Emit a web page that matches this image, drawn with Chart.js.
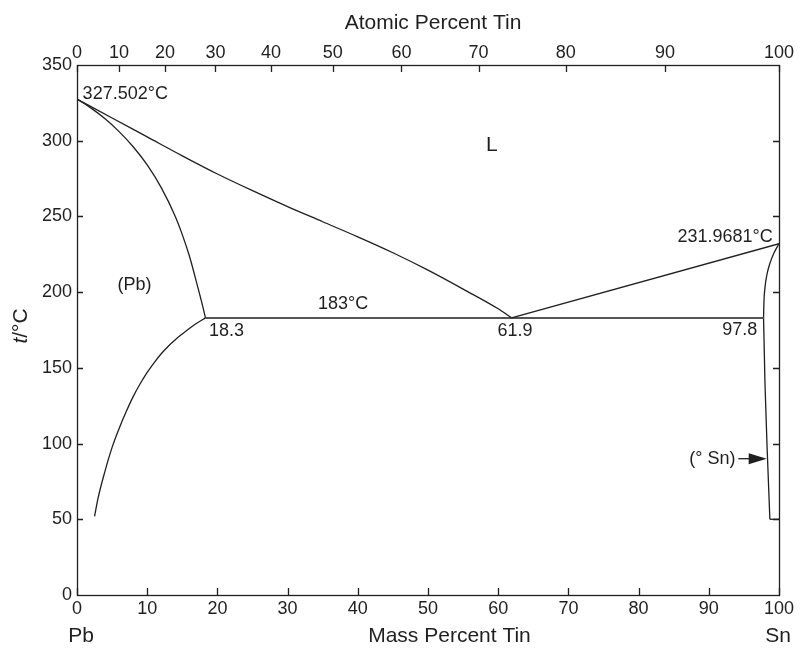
<!DOCTYPE html>
<html><head><meta charset="utf-8">
<script src="https://cdn.jsdelivr.net/npm/chart.js@4/dist/chart.umd.min.js"></script>
<style>html,body{margin:0;padding:0;background:#fff}</style>
</head><body>
<canvas id="c" width="801" height="648"></canvas>
<script>
// ---- data (mass percent Sn, temperature °C) ----
const massTicks = [0,10,20,30,40,50,60,70,80,90,100];
const atomicTicks = [0,10,20,30,40,50,60,70,80,90,100];
const tempTicks = [0,50,100,150,200,250,300,350];
const innerTempTicks = [50,100,150,200,250,300];
const SN_ATOMIC_MASS = 118.71, PB_ATOMIC_MASS = 207.2;

const liquidusPbX = [0, 5, 10, 15, 20, 25, 30, 35, 40, 45, 50, 55, 60, 61.9];
const liquidusPbT = [327.502, 315, 302.5, 290, 278, 267, 256.5, 246.5, 236.5, 226, 214.5, 202, 189, 183];
const liquidusSnX = [61.9, 100];
const liquidusSnT = [183, 231.9681];
const solidusPbX = [0, 2, 4, 6, 8, 10, 12, 14, 15, 16, 17, 18, 18.3];
const solidusPbT = [327.502, 321.5, 314.5, 306, 296, 284, 269, 250, 238, 224, 207, 189, 183];
const solvusPbX = [2.5, 3, 4, 5, 6, 7, 8, 9, 10, 11, 12, 13, 14, 15, 16, 17, 18.3];
const solvusPbT = [52, 64, 82, 97.5, 110, 121, 131, 139.5, 147, 153.5, 159.3, 164.3, 168.6, 172.4, 176, 179.3, 183];
const eutecticX = [18.3, 61.9, 97.8];
const eutecticT = [183, 183, 183];
const snSolidusX = [97.8, 97.85, 98.0, 98.3, 98.7, 99.3, 100];
const snSolidusT = [183, 193, 203, 212, 219, 226, 231.9681];
const snSolvusX = [97.8, 98.0, 98.3, 98.7];
const snSolvusT = [183, 140, 98, 50];
const snBottomX = [98.7, 100];
const snBottomT = [50, 50];

function massFromAtomic(a){
  const sn = a*SN_ATOMIC_MASS, pb = (100-a)*PB_ATOMIC_MASS;
  return sn/(sn+pb)*100;
}
function pts(xs, ts){ return xs.map((x,i)=>({x:x, y:ts[i]})); }

const FONT = "'Liberation Sans', Arial, Helvetica, sans-serif";
const INK = '#1f1f1f';

function ds(xs, ts, opt){
  return Object.assign({data: pts(xs,ts), showLine:true, pointRadius:0, borderColor:INK,
    borderWidth:1.3, tension:0, fill:false}, opt||{});
}
const smooth = {cubicInterpolationMode:'monotone'};

const labelsPlugin = {
  id:'labels',
  afterDraw(chart){
    const ctx = chart.ctx, xs = chart.scales.x, ys = chart.scales.y, a = chart.chartArea;
    ctx.save();
    ctx.strokeStyle = INK; ctx.lineWidth = 1.3;
    // frame
    ctx.strokeRect(Math.round(a.left)+0.5, Math.round(a.top)+0.5, Math.round(a.right-a.left), Math.round(a.bottom-a.top));
    // inward ticks
    ctx.beginPath();
    massTicks.forEach(v=>{ const px = Math.round(xs.getPixelForValue(v))+0.5; ctx.moveTo(px,a.bottom); ctx.lineTo(px,a.bottom-7); });
    atomicTicks.forEach(v=>{ const px = Math.round(xs.getPixelForValue(massFromAtomic(v)))+0.5; ctx.moveTo(px,a.top); ctx.lineTo(px,a.top+7); });
    innerTempTicks.forEach(v=>{ const py = Math.round(ys.getPixelForValue(v))+0.5;
      ctx.moveTo(a.right,py); ctx.lineTo(a.right-6,py);
      ctx.moveTo(a.left,py); ctx.lineTo(a.left+6,py); });
    ctx.stroke();

    ctx.fillStyle = INK;
    ctx.textBaseline = 'middle';
    function txt(s, mx, t, align, size){
      ctx.font = (size||18)+'px '+FONT;
      ctx.textAlign = align||'center';
      ctx.fillText(s, xs.getPixelForValue(mx), ys.getPixelForValue(t));
    }
    txt('327.502°C', 0.8, 331, 'left');
    txt('L', 59.1, 297, 'center', 21);
    txt('(Pb)', 8.2, 204.5, 'center');
    txt('183°C', 37.9, 192, 'center');
    txt('18.3', 21.3, 174.5, 'center');
    txt('61.9', 62.4, 174.5, 'center');
    txt('97.8', 94.4, 175, 'center');
    txt('231.9681°C', 99.1, 236.5, 'right');
    txt('(° Sn)', 90.5, 90, 'center');

    // arrow
    const ay = ys.getPixelForValue(90);
    const ax0 = xs.getPixelForValue(94.2), ax1 = xs.getPixelForValue(98.25);
    ctx.beginPath(); ctx.moveTo(ax0, ay); ctx.lineTo(ax1-14, ay); ctx.stroke();
    ctx.beginPath(); ctx.moveTo(ax1, ay); ctx.lineTo(ax1-18, ay-5.5); ctx.lineTo(ax1-18, ay+5.5); ctx.closePath(); ctx.fill();

    // axis titles
    ctx.font = '21px '+FONT; ctx.textAlign = 'center';
    ctx.fillText('Atomic Percent Tin', 433, 23);
    ctx.fillText('Mass Percent Tin', 449.5, 636);
    ctx.fillText('Pb', 81, 636);
    ctx.fillText('Sn', 778, 636);

    // rotated y title "t/°C" with italic t
    ctx.save();
    ctx.translate(21, 326); ctx.rotate(-Math.PI/2);
    ctx.font = 'italic 21px '+FONT; const wt = ctx.measureText('t').width;
    ctx.font = '21px '+FONT; const wr = ctx.measureText('/°C').width;
    const start = -(wt+wr)/2;
    ctx.textAlign = 'left';
    ctx.font = 'italic 21px '+FONT; ctx.fillText('t', start, 0);
    ctx.font = '21px '+FONT; ctx.fillText('/°C', start+wt, 0);
    ctx.restore();
    ctx.restore();
  }
};

const tickFont = {family: FONT, size: 18};
const noBorder = {display:false};

new Chart(document.getElementById('c'), {
  type:'scatter',
  data:{ datasets:[
    ds(liquidusPbX, liquidusPbT, smooth),
    ds(liquidusSnX, liquidusSnT),
    ds(solidusPbX, solidusPbT, smooth),
    ds(solvusPbX, solvusPbT, smooth),
    ds(eutecticX, eutecticT, {borderColor:'#555', borderWidth:2}),
    ds(snSolidusX, snSolidusT, smooth),
    ds(snSolvusX, snSolvusT),
    ds(snBottomX, snBottomT)
  ]},
  options:{
    responsive:false, devicePixelRatio:1, animation:false,
    layout:{padding:0},
    plugins:{legend:{display:false}, tooltip:{enabled:false}},
    scales:{
      x:{type:'linear', position:'bottom', min:0, max:100,
        ticks:{stepSize:10, font:tickFont, color:INK, padding:3, maxRotation:0},
        grid:{display:false, drawTicks:false}, border:noBorder,
        afterFit(s){ s.height = 53; }},
      x2:{type:'linear', position:'top', min:0, max:100,
        afterBuildTicks(s){ s.ticks = atomicTicks.map(a=>({value:massFromAtomic(a)})); },
        ticks:{autoSkip:false, font:tickFont, color:INK, padding:1, maxRotation:0,
          callback:(v,i)=>String(atomicTicks[i])},
        grid:{display:false, drawTicks:false}, border:noBorder,
        afterFit(s){ s.height = 65; }},
      y:{type:'linear', position:'left', min:0, max:350,
        ticks:{stepSize:50, font:tickFont, color:INK, padding:5},
        grid:{display:false, drawTicks:false}, border:noBorder,
        afterFit(s){ s.width = 77; }},
      y2:{type:'linear', position:'right', min:0, max:350,
        ticks:{display:false},
        grid:{display:false, drawTicks:false}, border:noBorder,
        afterFit(s){ s.width = 22; }}
    }
  },
  plugins:[labelsPlugin]
});
</script>
</body></html>
